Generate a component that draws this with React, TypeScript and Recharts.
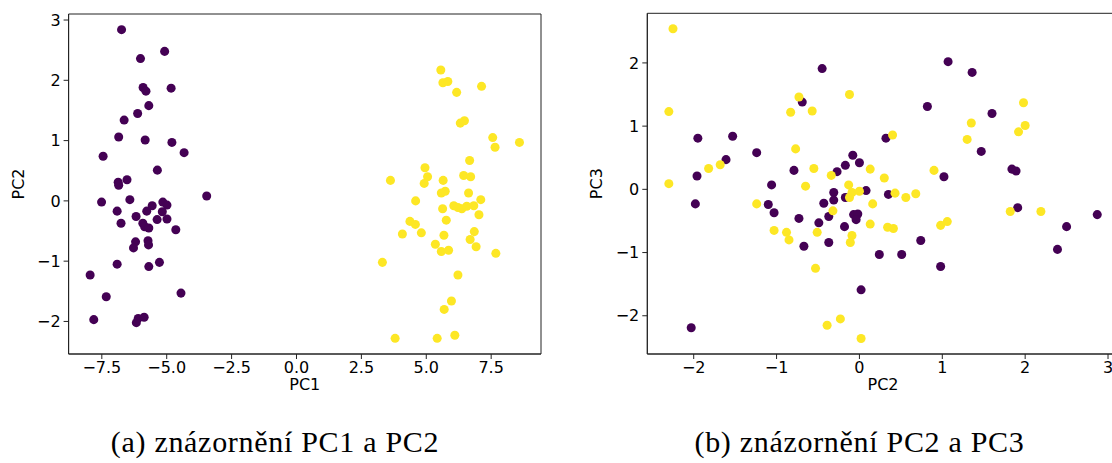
import React from 'react';
import { ScatterChart, Scatter, XAxis, YAxis, ZAxis, ReferenceArea } from 'recharts';

// PCA projections, two classes (purple = class 0, yellow = class 1)
// panel (a): [PC1, PC2]
const pcaClass0_PC1PC2: [number, number][] = [
  [-6.74, 2.84], [-5.08, 2.48], [-6.01, 2.36], [-5.91, 1.88], [-5.8, 1.82], [-4.83, 1.87], [-5.69, 1.58],
  [-6.12, 1.45], [-6.64, 1.34], [-6.85, 1.06], [-5.83, 1.01], [-4.8, 0.97], [-7.45, 0.74], [-4.33, 0.8],
  [-5.36, 0.51], [-6.87, 0.31], [-6.85, 0.26], [-6.53, 0.35], [-7.51, -0.02], [-6.42, 0.02], [-3.46, 0.08],
  [-6.91, -0.17], [-5.56, -0.08], [-5.77, -0.17], [-5.15, -0.02], [-4.99, -0.07], [-5.17, -0.18], [-6.18, -0.26],
  [-6.76, -0.37], [-5.92, -0.37], [-5.85, -0.43], [-5.69, -0.45], [-5.37, -0.31], [-4.99, -0.3], [-4.65, -0.48],
  [-6.2, -0.68], [-6.28, -0.78], [-5.72, -0.66], [-5.7, -0.73], [-6.91, -1.05], [-5.69, -1.09], [-5.28, -1.02],
  [-7.95, -1.23], [-7.33, -1.59], [-4.45, -1.53], [-7.81, -1.97], [-6.17, -2.02], [-6.1, -1.95], [-5.87, -1.93],
];
const pcaClass1_PC1PC2: [number, number][] = [
  [5.56, 2.17], [5.64, 1.96], [5.83, 1.98], [7.13, 1.9], [6.17, 1.8], [6.31, 1.29], [6.47, 1.33], [7.56, 1.05],
  [7.65, 0.89], [8.59, 0.97], [6.67, 0.67], [4.95, 0.55], [5.05, 0.4], [4.92, 0.29], [3.62, 0.34], [5.65, 0.34],
  [6.44, 0.42], [6.71, 0.4], [5.58, 0.13], [5.73, 0.16], [6.63, 0.13], [4.59, 0.0], [7.1, 0.02], [5.63, -0.13],
  [6.06, -0.08], [6.22, -0.11], [6.37, -0.13], [6.56, -0.09], [6.83, -0.08], [7.03, -0.23], [5.77, -0.32],
  [4.37, -0.34], [4.58, -0.39], [4.08, -0.55], [4.81, -0.53], [5.68, -0.57], [6.85, -0.51], [6.69, -0.64],
  [6.92, -0.76], [5.35, -0.72], [5.58, -0.84], [5.86, -0.82], [7.68, -0.87], [3.31, -1.02], [6.22, -1.23],
  [5.97, -1.66], [5.69, -1.8], [3.8, -2.28], [5.42, -2.28], [6.1, -2.23],
];

// panel (b): [PC2, PC3]
const pcaClass0_PC2PC3: [number, number][] = [
  [-0.45, 1.91], [-0.69, 1.38], [-1.95, 0.81], [-1.53, 0.84], [-1.24, 0.58], [-1.61, 0.47], [-0.79, 0.3],
  [-0.08, 0.54], [0.0, 0.42], [-0.17, 0.38], [-0.27, 0.28], [-1.96, 0.21], [-1.98, -0.23], [-1.06, 0.07],
  [-1.1, -0.24], [-1.03, -0.37], [-0.73, -0.46], [-0.67, -0.9], [-0.49, -0.53], [-0.37, -0.43], [-0.43, -0.22],
  [-0.31, -0.05], [-0.31, -0.17], [-0.37, -0.84], [0.08, -0.02], [-0.17, -0.13], [-0.07, -0.4], [-0.02, -0.39],
  [-0.04, -0.48], [-0.18, -0.59], [0.24, -1.03], [0.02, -1.59], [-2.03, -2.19], [1.07, 2.02], [1.36, 1.85],
  [0.82, 1.31], [1.6, 1.2], [0.32, 0.81], [1.47, 0.6], [1.02, 0.2], [1.84, 0.32], [1.89, 0.29], [0.35, -0.08],
  [0.74, -0.81], [0.51, -1.03], [0.98, -1.22], [1.91, -0.29], [2.87, -0.4], [2.5, -0.59], [2.39, -0.95],
];
const pcaClass1_PC2PC3: [number, number][] = [
  [-2.25, 2.54], [-2.3, 1.23], [-0.73, 1.46], [-0.83, 1.22], [-0.57, 1.24], [-0.12, 1.5], [-0.77, 0.64],
  [-1.68, 0.39], [-1.82, 0.33], [-0.55, 0.33], [-0.34, 0.22], [0.13, 0.32], [-2.3, 0.09], [-0.65, 0.05],
  [-1.24, -0.23], [-1.03, -0.65], [-0.88, -0.68], [-0.85, -0.8], [-0.51, -0.68], [-0.32, -0.34], [-0.13, 0.07],
  [-0.09, -0.05], [0.0, -0.03], [-0.12, -0.13], [-0.09, -0.73], [-0.11, -0.84], [0.16, -0.23], [0.13, -0.55],
  [-0.53, -1.25], [-0.39, -2.15], [-0.23, -2.05], [0.02, -2.36], [1.98, 1.37], [1.35, 1.05], [2.0, 1.01],
  [1.92, 0.91], [1.3, 0.79], [0.4, 0.86], [0.3, 0.18], [0.9, 0.3], [0.43, -0.06], [0.56, -0.13], [0.68, -0.07],
  [0.34, -0.6], [0.41, -0.62], [0.98, -0.57], [1.06, -0.51], [1.82, -0.35], [2.19, -0.35],
];

// axis ranges / ticks
const pc1Domain = [-8.78, 9.42];
const pc1Ticks = [-7.5, -5, -2.5, 0, 2.5, 5, 7.5];
const pc2DomainA = [-2.54, 3.1];
const pc2TicksA = [-2, -1, 0, 1, 2, 3];
const pc2DomainB = [-2.56, 3.13];
const pc2TicksB = [-2, -1, 0, 1, 2, 3];
const pc3Domain = [-2.605, 2.785];
const pc3Ticks = [-2, -1, 0, 1, 2];

const captions = ['(a) znázornění PC1 a PC2', '(b) znázornění PC2 a PC3'];

const PURPLE = '#440154';
const YELLOW = '#fde725';
const AXIS = '#222';
const FONT = 'DejaVu Sans, sans-serif';
const FS = 16;

const toPts = (arr: [number, number][]) => arr.map(([x, y]) => ({ x, y }));
const minus = (s: string) => s.replace('-', '\u2212');
const fmt1 = (v: number) => minus(v.toFixed(1));
const fmt0 = (v: number) => minus(String(v));

const tickStyle = { fill: '#000', fontSize: FS, fontFamily: FONT };

const XLabel = (props: any) => {
  const { viewBox, value } = props;
  const cx = viewBox.x + viewBox.width / 2;
  return (
    <text x={cx} y={viewBox.y + 36} textAnchor="middle" fill="#000" fontSize={FS} fontFamily={FONT}>
      {value}
    </text>
  );
};

const YLabel = (props: any) => {
  const { viewBox, value } = props;
  const cx = viewBox.x + 5;
  const cy = viewBox.y + viewBox.height / 2;
  return (
    <text x={cx} y={cy} transform={`rotate(-90 ${cx} ${cy})`} textAnchor="middle" fill="#000" fontSize={FS} fontFamily={FONT}>
      {value}
    </text>
  );
};

interface PanelProps {
  c0: [number, number][];
  c1: [number, number][];
  xDomain: number[];
  yDomain: number[];
  xTicks: number[];
  yTicks: number[];
  xFmt: (v: number) => string;
  xName: string;
  yName: string;
  margin: { top: number; right: number; bottom: number; left: number };
}

const Panel: React.FC<PanelProps> = ({ c0, c1, xDomain, yDomain, xTicks, yTicks, xFmt, xName, yName, margin }) => (
  <ScatterChart width={560} height={400} margin={margin}>
    <XAxis
      type="number"
      dataKey="x"
      domain={xDomain}
      allowDataOverflow
      ticks={xTicks}
      tickFormatter={xFmt}
      tick={tickStyle}
      tickSize={5}
      tickMargin={3}
      stroke={AXIS}
      height={30}
      label={<XLabel value={xName} />}
    />
    <YAxis
      type="number"
      dataKey="y"
      domain={yDomain}
      allowDataOverflow
      ticks={yTicks}
      tickFormatter={fmt0}
      tick={tickStyle}
      tickSize={5}
      tickMargin={3}
      stroke={AXIS}
      width={50}
      label={<YLabel value={yName} />}
    />
    <ZAxis range={[68, 68]} />
    <ReferenceArea x1={xDomain[0]} x2={xDomain[1]} y1={yDomain[0]} y2={yDomain[1]} fill="none" stroke={AXIS} strokeWidth={1} />
    <Scatter data={toPts(c0)} fill={PURPLE} isAnimationActive={false} />
    <Scatter data={toPts(c1)} fill={YELLOW} isAnimationActive={false} />
  </ScatterChart>
);

const captionStyle: React.CSSProperties = {
  position: 'absolute',
  top: 427,
  fontFamily: 'Liberation Serif, serif',
  fontSize: 30,
  letterSpacing: 0.7,
  lineHeight: '30px',
  textAlign: 'center',
  color: '#000',
  whiteSpace: 'nowrap',
};

export default function App() {
  return (
    <div style={{ position: 'absolute', left: 0, top: 0, width: 1112, height: 463, overflow: 'hidden', background: '#fff' }}>
      <div style={{ position: 'absolute', left: 0, top: 0 }}>
        <Panel
          c0={pcaClass0_PC1PC2}
          c1={pcaClass1_PC1PC2}
          xDomain={pc1Domain}
          yDomain={pc2DomainA}
          xTicks={pc1Ticks}
          yTicks={pc2TicksA}
          xFmt={fmt1}
          xName="PC1"
          yName="PC2"
          margin={{ top: 14, right: 19, bottom: 16, left: 18.6 }}
        />
      </div>
      <div style={{ position: 'absolute', left: 580, top: 0 }}>
        <Panel
          c0={pcaClass0_PC2PC3}
          c1={pcaClass1_PC2PC3}
          xDomain={pc2DomainB}
          yDomain={pc3Domain}
          xTicks={pc2TicksB}
          yTicks={pc3Ticks}
          xFmt={fmt0}
          xName="PC2"
          yName="PC3"
          margin={{ top: 13.3, right: 21.2, bottom: 16, left: 17.3 }}
        />
      </div>
      <div style={{ ...captionStyle, left: 0, width: 550 }}>{captions[0]}</div>
      <div style={{ ...captionStyle, left: 584, width: 551 }}>{captions[1]}</div>
    </div>
  );
}
